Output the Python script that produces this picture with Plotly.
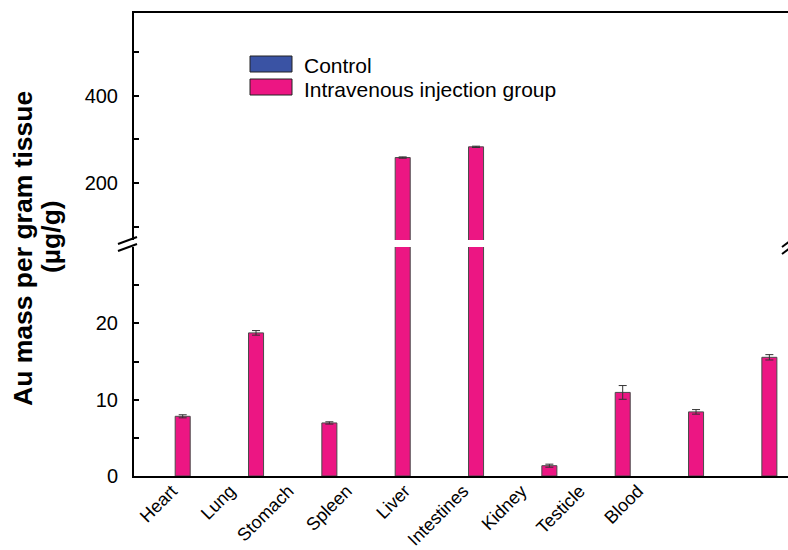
import plotly.graph_objects as go

# ---------------- data ----------------
organs = ["Heart", "Lung", "Stomach", "Spleen", "Liver", "Intestines", "Kidney", "Testicle", "Blood"]
control = [0, 0, 0, 0, 0, 0, 0, 0, 0]
iv_group = [7.82, 18.75, 6.95, 258.5, 283.0, 1.35, 10.95, 8.4, 15.55]
iv_err = [0.2, 0.3, 0.15, 1.5, 1.5, 0.2, 0.9, 0.3, 0.35]
low_ticks = [0, 10, 20]
low_minor = [5, 15, 25]
high_ticks = [200, 400]
high_minor = [100, 300, 500]

# ---------------- geometry helpers ----------------
W, H = 788, 550
L, T, B = 134, 13, 74
PW, PH = W - L, H - T - B
def px(x):
    return (x - L) / PW
def py(y):
    return (H - B - y) / PH

FONT = "Liberation Sans, Arial, sans-serif"
MAG = "#EC1683"
BLUE = "#3A53A4"

fig = go.Figure()
for xa, ya in [("x", "y"), ("x2", "y2")]:
    fig.add_trace(go.Bar(x=organs, y=control, xaxis=xa, yaxis=ya, name="Control",
                         marker=dict(color=BLUE, line=dict(width=0)), width=0.205,
                         showlegend=False))
    fig.add_trace(go.Bar(x=organs, y=iv_group, xaxis=xa, yaxis=ya,
                         name="Intravenous injection group",
                         marker=dict(color=MAG, line=dict(color="#4a4a4a", width=1)),
                         width=0.205,
                         error_y=dict(type="data", array=iv_err, color="#333333",
                                      thickness=1, width=4),
                         showlegend=False))
# category label axis
fig.add_trace(go.Scatter(x=organs, y=[0] * len(organs), xaxis="x3", yaxis="y",
                         mode="markers", marker=dict(opacity=0), hoverinfo="skip",
                         showlegend=False))

yaxis_common = dict(showline=True, linecolor="black", linewidth=2, ticks="inside",
                    ticklen=5, tickwidth=1.5, tickcolor="black", showgrid=False,
                    zeroline=False, tickfont=dict(family=FONT, size=20, color="black"),
                    ticklabelstandoff=10, automargin=False)

fig.update_layout(
    width=W, height=H, margin=dict(l=L, r=0, t=T, b=B, autoexpand=False),
    paper_bgcolor="white", plot_bgcolor="white", barmode="overlay",
    showlegend=False,
    xaxis=dict(domain=[0, 1], anchor="y", range=[-0.664, 8.254], showline=True,
               linecolor="black", linewidth=2, ticks="", showticklabels=False,
               showgrid=False, automargin=False),
    xaxis2=dict(matches="x", anchor="y2", side="top", showline=True,
                linecolor="black", linewidth=2, ticks="", showticklabels=False,
                showgrid=False, automargin=False),
    xaxis3=dict(overlaying="x", anchor="y", side="bottom", type="category",
                range=[-0.652, 10.576], tickangle=-45, ticks="", showline=False,
                showgrid=False, automargin=False,
                tickfont=dict(family=FONT, size=18, color="black")),
    yaxis=dict(domain=[0, py(247)], anchor="x", range=[0, 30], tickvals=low_ticks,
               minor=dict(tickvals=low_minor, ticks="inside", ticklen=5,
                          tickwidth=1.5, tickcolor="black"),
               **yaxis_common),
    yaxis2=dict(domain=[py(240), 1], anchor="x2", range=[70, 589], tickvals=high_ticks,
                minor=dict(tickvals=high_minor, ticks="inside", ticklen=5,
                           tickwidth=1.5, tickcolor="black"),
                **yaxis_common),
)

# axis-break marks
brk = dict(type="line", xref="paper", yref="paper", xsizemode="pixel",
           ysizemode="pixel", line=dict(color="black", width=2))
fig.add_shape(**brk, xanchor=0, yanchor=py(244), x0=-16, x1=3, y0=0, y1=7)
fig.add_shape(**brk, xanchor=0, yanchor=py(244), x0=-16, x1=3, y0=-7, y1=0)
fig.add_shape(**brk, xanchor=1, yanchor=py(244), x0=-6, x1=2, y0=-3, y1=3)
fig.add_shape(**brk, xanchor=1, yanchor=py(244), x0=-6, x1=2, y0=-10, y1=-4)

# legend (drawn)
fig.add_shape(type="rect", xref="paper", yref="paper", x0=px(250), x1=px(292),
              y0=py(72), y1=py(56), fillcolor=BLUE, line=dict(color="#222", width=1))
fig.add_shape(type="rect", xref="paper", yref="paper", x0=px(250), x1=px(292),
              y0=py(95), y1=py(79), fillcolor=MAG, line=dict(color="#222", width=1))
fig.add_annotation(text="Control", xref="paper", yref="paper", x=px(302), y=py(65.5),
                   xanchor="left", yanchor="middle", showarrow=False,
                   font=dict(family=FONT, size=21, color="black"))
fig.add_annotation(text="Intravenous injection group", xref="paper", yref="paper",
                   x=px(302), y=py(89.5), xanchor="left", yanchor="middle",
                   showarrow=False, font=dict(family=FONT, size=21, color="black"))

# y-axis title (two lines)
fig.add_annotation(text="<b>Au mass per gram tissue</b>", xref="paper", yref="paper",
                   x=px(23), y=py(249), xanchor="center", yanchor="middle",
                   textangle=-90, showarrow=False,
                   font=dict(family=FONT, size=26.5, color="black"))
fig.add_annotation(text="<b>(µg/g)</b>", xref="paper", yref="paper",
                   x=px(51), y=py(237), xanchor="center", yanchor="middle",
                   textangle=-90, showarrow=False,
                   font=dict(family=FONT, size=26.5, color="black"))

fig.write_html("out.html", config={"displayModeBar": False},
               post_script="document.body.style.margin='0';"
                           "document.body.style.overflow='hidden';")
